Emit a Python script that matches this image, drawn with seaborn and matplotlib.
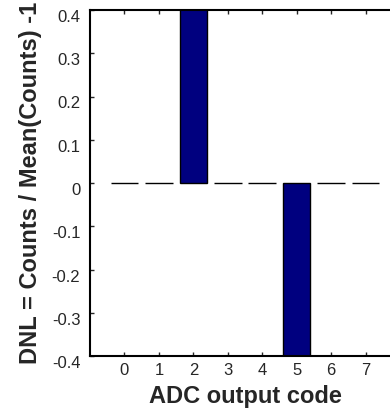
import pandas as pd
import matplotlib
matplotlib.use('Agg')
import matplotlib.pyplot as plt
import matplotlib.transforms as mtransforms
import seaborn as sns

# data
codes = [0, 1, 2, 3, 4, 5, 6, 7]
dnl = [0.0, 0.0, 1.0, 0.0, 0.0, -1.0, 0.0, 0.0]
yticks = [-0.4, -0.3, -0.2, -0.1, 0, 0.1, 0.2, 0.3, 0.4]
ytick_labels = ['-0.4', '-0.3', '-0.2', '-0.1', '0', '0.1', '0.2', '0.3', '0.4']

df = pd.DataFrame({'code': codes, 'dnl': dnl})

sns.set_style("white")
plt.rcParams['font.family'] = ['Liberation Sans', 'DejaVu Sans']

fig = plt.figure(figsize=(3.9, 4.09), dpi=100)
ax = fig.add_axes([90 / 390, 53 / 409, 310 / 390, 346 / 409])

sns.barplot(data=df, x='code', y='dnl', color='#00007f', saturation=1,
            edgecolor='black', linewidth=1, width=0.8, ax=ax, native_scale=True)

ax.set_xlim(-1, 8)
ax.set_ylim(-0.4, 0.4)
ax.set_xticks(codes)
ax.set_xticklabels([str(c) for c in codes])
ax.set_yticks(yticks)
ax.set_yticklabels(ytick_labels)
ax.tick_params(direction='in', length=3, width=1, labelsize=12,
               top=True, right=True, bottom=True, left=True)
ax.tick_params(axis='x', pad=5)
ax.tick_params(axis='y', pad=7)
for s in ax.spines.values():
    s.set_linewidth(1.5)
    s.set_color('black')

# MATLAB-style y labels sit a little below their ticks
shift = mtransforms.ScaledTranslation(0, -6 / 100, fig.dpi_scale_trans)
for lab in ax.get_yticklabels():
    lab.set_transform(lab.get_transform() + shift)

ax.set_xlabel('ADC output code', fontsize=17, fontweight='bold', labelpad=5)
ax.set_ylabel('DNL = Counts / Mean(Counts) -1', fontsize=17, fontweight='bold', labelpad=7)

fig.savefig('out.png', dpi=100)
